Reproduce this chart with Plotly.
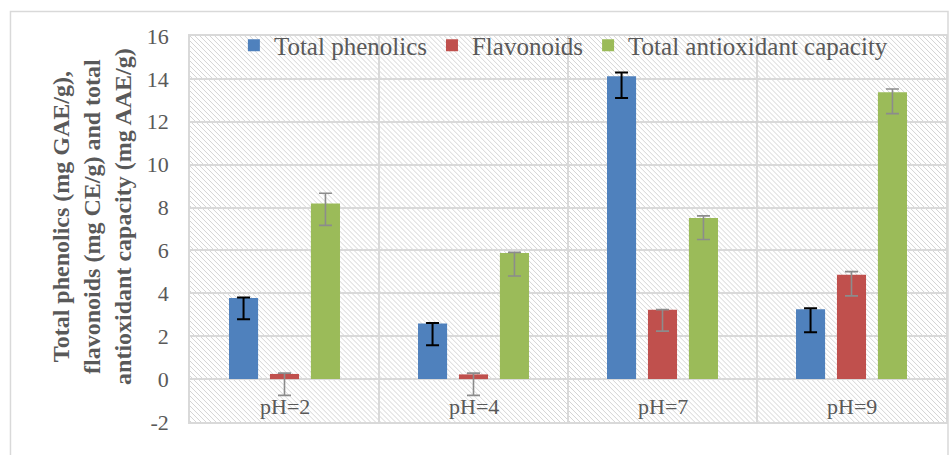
import base64
import plotly.graph_objects as go

# --- data -------------------------------------------------------------
categories = ["pH=2", "pH=4", "pH=7", "pH=9"]

total_phenolics = [3.78, 2.59, 14.12, 3.26]
phenolics_err_plus = [0.02, 0.03, 0.18, 0.04]
phenolics_err_minus = [0.99, 1.01, 1.01, 1.08]

flavonoids = [0.24, 0.22, 3.24, 4.87]
flavonoids_err_plus = [0.04, 0.06, 0.0, 0.14]
flavonoids_err_minus = [1.00, 0.98, 1.00, 0.99]

antioxidant = [8.19, 5.88, 7.51, 13.38]
antioxidant_err_plus = [0.48, 0.03, 0.10, 0.15]
antioxidant_err_minus = [1.02, 1.07, 1.00, 1.00]

y_ticks = [-2, 0, 2, 4, 6, 8, 10, 12, 14, 16]
y_tick_labels = ["-2", "0", "2", "4", "6", "8", "10", "12", "14", "16"]

# --- styling ----------------------------------------------------------
W, H = 952, 455
M_L, M_R, M_T, M_B = 190, 4, 36, 33
PLOT_W = W - M_L - M_R
PLOT_H = H - M_T - M_B

FONT = "Liberation Serif"
TXT = "#595959"
GRID = "#d9d9d9"

x_pos = list(range(len(categories)))

fig = go.Figure()

series = [
    ("Total phenolics", total_phenolics, phenolics_err_plus, phenolics_err_minus, "#4F81BD", "#000000", 2),
    ("Flavonoids", flavonoids, flavonoids_err_plus, flavonoids_err_minus, "#C0504D", "#8c8c8c", 1.6),
    ("Total antioxidant capacity", antioxidant, antioxidant_err_plus, antioxidant_err_minus, "#9BBB59", "#8c8c8c", 1.6),
]
for name, vals, ep, em, color, ecolor, ethick in series:
    fig.add_trace(go.Bar(
        name=name, x=x_pos, y=vals,
        marker=dict(color=color, line=dict(width=0)),
        error_y=dict(type="data", symmetric=False, array=ep, arrayminus=em,
                     color=ecolor, thickness=ethick, width=6.5),
    ))

# category labels sit inside the plot, between 0 and -2
for i, cat in enumerate(categories):
    fig.add_annotation(x=i, y=-1.3, xref="x", yref="y", text=cat, showarrow=False,
                       font=dict(family=FONT, size=22, color=TXT))

# rotated, three-line y-axis title
fig.add_annotation(
    x=(91 - M_L) / PLOT_W, y=0.532, xref="paper", yref="paper",
    text="Total phenolics (mg GAE/g),<br>flavonoids (mg CE/g) and total<br>antioxidant capacity (mg AAE/g)",
    textangle=-90, showarrow=False, xanchor="center", yanchor="middle",
    font=dict(family=FONT, size=24, color=TXT, weight="bold"),
)

# diagonal hatch fill for the plotting area
svg = f"""<svg xmlns='http://www.w3.org/2000/svg' width='{PLOT_W}' height='{PLOT_H}' preserveAspectRatio='none'>
<defs><pattern id='h' width='5' height='5' patternUnits='userSpaceOnUse'>
<path d='M-1,-1 L6,6 M-1,4 L1,6 M4,-1 L6,1' stroke='#d4d4d4' stroke-width='1'/></pattern></defs>
<rect width='100%' height='100%' fill='white'/>
<rect width='100%' height='100%' fill='url(#h)'/></svg>"""
fig.add_layout_image(
    source="data:image/svg+xml;base64," + base64.b64encode(svg.encode()).decode(),
    xref="paper", yref="paper", x=0, y=1, sizex=1, sizey=1,
    xanchor="left", yanchor="top", sizing="stretch", layer="below",
)

# outer chart frame
fig.add_shape(type="rect", xref="paper", yref="paper",
              x0=(10 - M_L) / PLOT_W, x1=(950 - M_L) / PLOT_W,
              y0=(PLOT_H + M_T - 470) / PLOT_H, y1=(PLOT_H + M_T - 11.5) / PLOT_H,
              line=dict(color=GRID, width=1.5), fillcolor="rgba(0,0,0,0)", layer="below")

fig.update_layout(
    width=W, height=H,
    margin=dict(l=M_L, r=M_R, t=M_T, b=M_B),
    paper_bgcolor="white", plot_bgcolor="rgba(0,0,0,0)",
    barmode="group", bargap=0.35, bargroupgap=0.29,
    font=dict(family=FONT, color=TXT),
    showlegend=True,
    legend=dict(orientation="h", x=(234 - M_L) / PLOT_W, xanchor="left",
                y=1.035, yanchor="top", bgcolor="rgba(0,0,0,0)",
                font=dict(family=FONT, size=25, color=TXT),
                itemwidth=30, traceorder="normal"),
    xaxis=dict(range=[-0.5, len(categories) - 0.5],
               tickvals=[i - 0.5 for i in range(len(categories) + 1)],
               showticklabels=False, ticks="", showgrid=True, gridcolor=GRID, gridwidth=1.5,
               showline=True, mirror=True, linecolor=GRID, linewidth=1.5, zeroline=False),
    yaxis=dict(range=[-2, 16], tickvals=y_ticks, ticktext=y_tick_labels, ticks="",
               tickfont=dict(family=FONT, size=22, color=TXT), ticklabelstandoff=15,
               showgrid=True, gridcolor=GRID, gridwidth=1.5,
               zeroline=True, zerolinecolor=GRID, zerolinewidth=1.5,
               showline=True, mirror=True, linecolor=GRID, linewidth=1.5),
)

fig.write_html("out.html")
